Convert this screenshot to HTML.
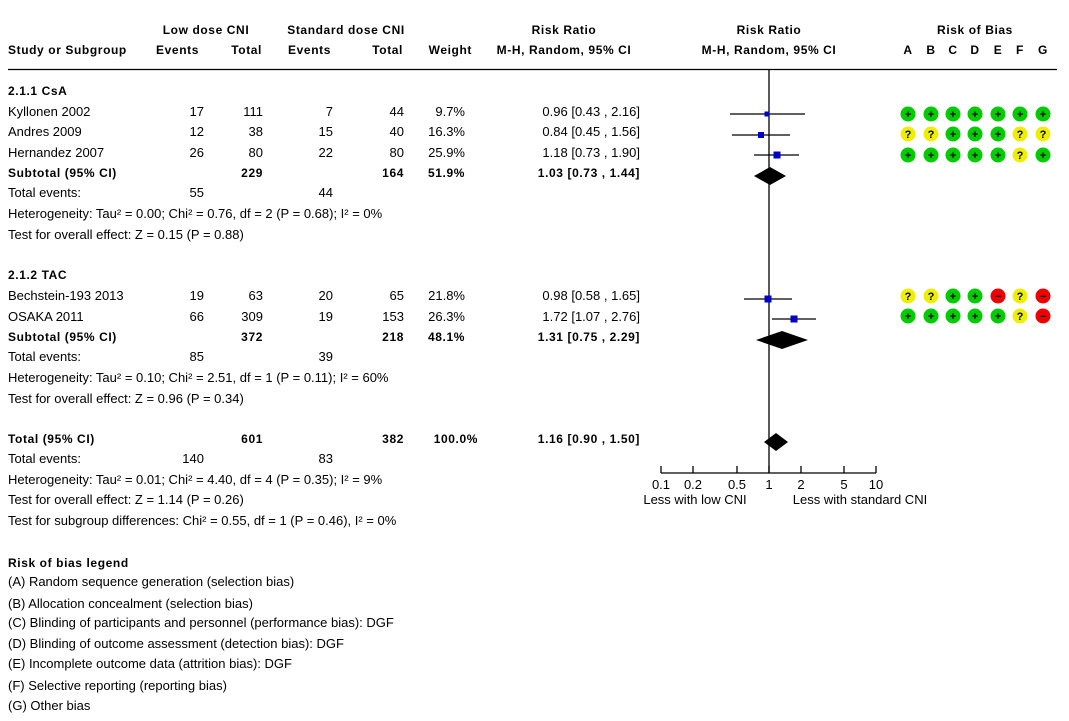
<!DOCTYPE html>
<html><head><meta charset="utf-8"><style>
body{margin:0;background:#fff}
svg{display:block}
text{font-family:"Liberation Sans",sans-serif;font-size:13px;fill:#000}
.b{font-weight:bold;font-size:12px;letter-spacing:0.6px}
.r{text-anchor:end}.m{text-anchor:middle}
.s{font-size:11px;font-weight:bold;text-anchor:middle}
.g{fill:#00cc00}.y{fill:#eeee00}.x{fill:#ee0000}
</style></head><body>
<svg width="1069" height="721" xmlns="http://www.w3.org/2000/svg">
<text x="206" y="34" class="b m">Low dose CNI</text>
<text x="346" y="34" class="b m">Standard dose CNI</text>
<text x="564" y="34" class="b m">Risk Ratio</text>
<text x="769" y="34" class="b m">Risk Ratio</text>
<text x="975" y="34" class="b m">Risk of Bias</text>
<text x="8" y="54" class="b">Study or Subgroup</text>
<text x="199" y="54" class="b r">Events</text>
<text x="262" y="54" class="b r">Total</text>
<text x="331" y="54" class="b r">Events</text>
<text x="403" y="54" class="b r">Total</text>
<text x="472" y="54" class="b r">Weight</text>
<text x="564" y="54" class="b m">M-H, Random, 95% CI</text>
<text x="769" y="54" class="b m">M-H, Random, 95% CI</text>
<text x="908" y="54" class="b m">A</text><text x="931" y="54" class="b m">B</text><text x="953" y="54" class="b m">C</text><text x="975" y="54" class="b m">D</text><text x="998" y="54" class="b m">E</text><text x="1020" y="54" class="b m">F</text><text x="1043" y="54" class="b m">G</text>
<line x1="8" y1="69.5" x2="1057" y2="69.5" stroke="#000" stroke-width="1.3"/>
<line x1="769" y1="69" x2="769" y2="473" stroke="#000" stroke-width="1.3"/>

<text x="8" y="95" class="b">2.1.1 CsA</text>
<text x="8" y="116">Kyllonen 2002</text><text x="204" y="116" class="r">17</text><text x="263" y="116" class="r">111</text><text x="333" y="116" class="r">7</text><text x="404" y="116" class="r">44</text><text x="465" y="116" class="r">9.7%</text><text x="640" y="116" class="r">0.96 [0.43 , 2.16]</text>
<text x="8" y="136">Andres 2009</text><text x="204" y="136" class="r">12</text><text x="263" y="136" class="r">38</text><text x="333" y="136" class="r">15</text><text x="404" y="136" class="r">40</text><text x="465" y="136" class="r">16.3%</text><text x="640" y="136" class="r">0.84 [0.45 , 1.56]</text>
<text x="8" y="157">Hernandez 2007</text><text x="204" y="157" class="r">26</text><text x="263" y="157" class="r">80</text><text x="333" y="157" class="r">22</text><text x="404" y="157" class="r">80</text><text x="465" y="157" class="r">25.9%</text><text x="640" y="157" class="r">1.18 [0.73 , 1.90]</text>
<text x="8" y="177" class="b">Subtotal (95% CI)</text><text x="263" y="177" class="b r">229</text><text x="404" y="177" class="b r">164</text><text x="465" y="177" class="b r">51.9%</text><text x="640" y="177" class="b r">1.03 [0.73 , 1.44]</text>
<text x="8" y="197">Total events:</text><text x="204" y="197" class="r">55</text><text x="333" y="197" class="r">44</text>
<text x="8" y="218">Heterogeneity: Tau² = 0.00; Chi² = 0.76, df = 2 (P = 0.68); I² = 0%</text>
<text x="8" y="239">Test for overall effect: Z = 0.15 (P = 0.88)</text>

<text x="8" y="279" class="b">2.1.2 TAC</text>
<text x="8" y="300">Bechstein-193 2013</text><text x="204" y="300" class="r">19</text><text x="263" y="300" class="r">63</text><text x="333" y="300" class="r">20</text><text x="404" y="300" class="r">65</text><text x="465" y="300" class="r">21.8%</text><text x="640" y="300" class="r">0.98 [0.58 , 1.65]</text>
<text x="8" y="321">OSAKA 2011</text><text x="204" y="321" class="r">66</text><text x="263" y="321" class="r">309</text><text x="333" y="321" class="r">19</text><text x="404" y="321" class="r">153</text><text x="465" y="321" class="r">26.3%</text><text x="640" y="321" class="r">1.72 [1.07 , 2.76]</text>
<text x="8" y="341" class="b">Subtotal (95% CI)</text><text x="263" y="341" class="b r">372</text><text x="404" y="341" class="b r">218</text><text x="465" y="341" class="b r">48.1%</text><text x="640" y="341" class="b r">1.31 [0.75 , 2.29]</text>
<text x="8" y="361">Total events:</text><text x="204" y="361" class="r">85</text><text x="333" y="361" class="r">39</text>
<text x="8" y="382">Heterogeneity: Tau² = 0.10; Chi² = 2.51, df = 1 (P = 0.11); I² = 60%</text>
<text x="8" y="403">Test for overall effect: Z = 0.96 (P = 0.34)</text>

<text x="8" y="443" class="b">Total (95% CI)</text><text x="263" y="443" class="b r">601</text><text x="404" y="443" class="b r">382</text><text x="478" y="443" class="b r">100.0%</text><text x="640" y="443" class="b r">1.16 [0.90 , 1.50]</text>
<text x="8" y="463">Total events:</text><text x="204" y="463" class="r">140</text><text x="333" y="463" class="r">83</text>
<text x="8" y="484">Heterogeneity: Tau² = 0.01; Chi² = 4.40, df = 4 (P = 0.35); I² = 9%</text>
<text x="8" y="504">Test for overall effect: Z = 1.14 (P = 0.26)</text>
<text x="8" y="525">Test for subgroup differences: Chi² = 0.55, df = 1 (P = 0.46), I² = 0%</text>

<text x="8" y="567" class="b">Risk of bias legend</text>
<text x="8" y="586">(A) Random sequence generation (selection bias)</text>
<text x="8" y="608">(B) Allocation concealment (selection bias)</text>
<text x="8" y="627">(C) Blinding of participants and personnel (performance bias): DGF</text>
<text x="8" y="648">(D) Blinding of outcome assessment (detection bias): DGF</text>
<text x="8" y="668">(E) Incomplete outcome data (attrition bias): DGF</text>
<text x="8" y="690">(F) Selective reporting (reporting bias)</text>
<text x="8" y="710">(G) Other bias</text>

<g stroke="#000" stroke-width="1.3">
<line x1="730" y1="114" x2="805" y2="114"/><line x1="732" y1="135" x2="790" y2="135"/><line x1="754" y1="155" x2="799" y2="155"/>
<line x1="744" y1="299" x2="792" y2="299"/><line x1="772" y1="319" x2="816" y2="319"/>
<line x1="661" y1="473" x2="876" y2="473"/>
<line x1="661" y1="466" x2="661" y2="473"/><line x1="693" y1="466" x2="693" y2="473"/><line x1="737" y1="466" x2="737" y2="473"/><line x1="769" y1="466" x2="769" y2="473"/><line x1="801" y1="466" x2="801" y2="473"/><line x1="844" y1="466" x2="844" y2="473"/><line x1="876" y1="466" x2="876" y2="473"/>
</g>
<g fill="#0000cc">
<rect x="764.5" y="111.5" width="5" height="5"/><rect x="758" y="132" width="6" height="6"/><rect x="773.5" y="151.5" width="7" height="7"/>
<rect x="764.5" y="295.5" width="7" height="7"/><rect x="790.5" y="315.5" width="7" height="7"/>
</g>
<g fill="#000">
<polygon points="754,176 770,167 786,176 770,185"/>
<polygon points="756,340 782,331 808,340 782,349"/>
<polygon points="764,442 776,433 788,442 776,451"/>
</g>
<text x="661" y="489" class="m">0.1</text><text x="693" y="489" class="m">0.2</text><text x="737" y="489" class="m">0.5</text><text x="769" y="489" class="m">1</text><text x="801" y="489" class="m">2</text><text x="844" y="489" class="m">5</text><text x="876" y="489" class="m">10</text>
<text x="695" y="504" class="m">Less with low CNI</text><text x="860" y="504" class="m">Less with standard CNI</text>

<!-- row 114: + + + + + + + -->
<g>
<circle cx="908" cy="114" r="7.5" class="g"/><text x="908" y="118" class="s">+</text>
<circle cx="931" cy="114" r="7.5" class="g"/><text x="931" y="118" class="s">+</text>
<circle cx="953" cy="114" r="7.5" class="g"/><text x="953" y="118" class="s">+</text>
<circle cx="975" cy="114" r="7.5" class="g"/><text x="975" y="118" class="s">+</text>
<circle cx="998" cy="114" r="7.5" class="g"/><text x="998" y="118" class="s">+</text>
<circle cx="1020" cy="114" r="7.5" class="g"/><text x="1020" y="118" class="s">+</text>
<circle cx="1043" cy="114" r="7.5" class="g"/><text x="1043" y="118" class="s">+</text>
</g>
<g>
<circle cx="908" cy="134" r="7.5" class="y"/><text x="908" y="138" class="s">?</text>
<circle cx="931" cy="134" r="7.5" class="y"/><text x="931" y="138" class="s">?</text>
<circle cx="953" cy="134" r="7.5" class="g"/><text x="953" y="138" class="s">+</text>
<circle cx="975" cy="134" r="7.5" class="g"/><text x="975" y="138" class="s">+</text>
<circle cx="998" cy="134" r="7.5" class="g"/><text x="998" y="138" class="s">+</text>
<circle cx="1020" cy="134" r="7.5" class="y"/><text x="1020" y="138" class="s">?</text>
<circle cx="1043" cy="134" r="7.5" class="y"/><text x="1043" y="138" class="s">?</text>
</g>
<g>
<circle cx="908" cy="155" r="7.5" class="g"/><text x="908" y="159" class="s">+</text>
<circle cx="931" cy="155" r="7.5" class="g"/><text x="931" y="159" class="s">+</text>
<circle cx="953" cy="155" r="7.5" class="g"/><text x="953" y="159" class="s">+</text>
<circle cx="975" cy="155" r="7.5" class="g"/><text x="975" y="159" class="s">+</text>
<circle cx="998" cy="155" r="7.5" class="g"/><text x="998" y="159" class="s">+</text>
<circle cx="1020" cy="155" r="7.5" class="y"/><text x="1020" y="159" class="s">?</text>
<circle cx="1043" cy="155" r="7.5" class="g"/><text x="1043" y="159" class="s">+</text>
</g>
<g>
<circle cx="908" cy="296" r="7.5" class="y"/><text x="908" y="300" class="s">?</text>
<circle cx="931" cy="296" r="7.5" class="y"/><text x="931" y="300" class="s">?</text>
<circle cx="953" cy="296" r="7.5" class="g"/><text x="953" y="300" class="s">+</text>
<circle cx="975" cy="296" r="7.5" class="g"/><text x="975" y="300" class="s">+</text>
<circle cx="998" cy="296" r="7.5" class="x"/><text x="998" y="300" class="s">−</text>
<circle cx="1020" cy="296" r="7.5" class="y"/><text x="1020" y="300" class="s">?</text>
<circle cx="1043" cy="296" r="7.5" class="x"/><text x="1043" y="300" class="s">−</text>
</g>
<g>
<circle cx="908" cy="316" r="7.5" class="g"/><text x="908" y="320" class="s">+</text>
<circle cx="931" cy="316" r="7.5" class="g"/><text x="931" y="320" class="s">+</text>
<circle cx="953" cy="316" r="7.5" class="g"/><text x="953" y="320" class="s">+</text>
<circle cx="975" cy="316" r="7.5" class="g"/><text x="975" y="320" class="s">+</text>
<circle cx="998" cy="316" r="7.5" class="g"/><text x="998" y="320" class="s">+</text>
<circle cx="1020" cy="316" r="7.5" class="y"/><text x="1020" y="320" class="s">?</text>
<circle cx="1043" cy="316" r="7.5" class="x"/><text x="1043" y="320" class="s">−</text>
</g>
</svg>
</body></html>
